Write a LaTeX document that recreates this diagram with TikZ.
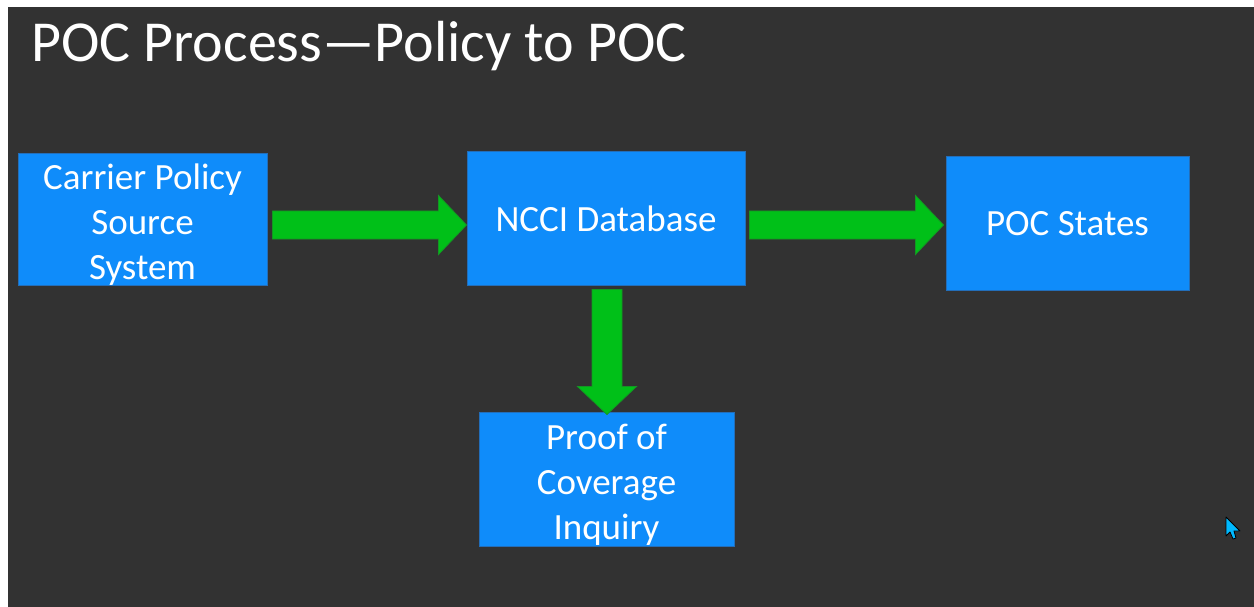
\documentclass[tikz,border=0pt]{standalone}
\usepackage{fontspec}
\setmainfont{Carlito}
\usetikzlibrary{calc}
\definecolor{bgdark}{RGB}{50,50,50}
\definecolor{boxblue}{RGB}{15,140,250}
\definecolor{boxedge}{RGB}{35,110,185}
\definecolor{agreen}{RGB}{0,192,24}
\definecolor{agreenedge}{RGB}{20,150,35}
\definecolor{cursorblue}{RGB}{0,185,255}
\tikzset{
  blockbox/.style={rectangle, fill=boxblue, draw=boxedge, line width=1pt, text=white,
    align=center, inner sep=0pt, font=\fontsize{37}{45}\selectfont},
  garrow/.style={fill=agreen, draw=agreenedge, line width=0.8pt},
}
\newcommand\rblockarrow[2]{%
  \path[garrow] let \p1=(#1), \p2=(#2) in
    (\x1,\y1+14pt) -- (\x2-28pt,\y1+14pt) -- (\x2-28pt,\y1+29.5pt) -- (\x2,\y1)
    -- (\x2-28pt,\y1-29.5pt) -- (\x2-28pt,\y1-14pt) -- (\x1,\y1-14pt) -- cycle;}
\newcommand\dblockarrow[2]{%
  \path[garrow] let \p1=(#1), \p2=(#2) in
    (\x1-15pt,\y1) -- (\x1+15pt,\y1) -- (\x1+15pt,\y2+28pt) -- (\x1+29.5pt,\y2+28pt)
    -- (\x1,\y2) -- (\x1-29.5pt,\y2+28pt) -- (\x1-15pt,\y2+28pt) -- cycle;}
\newcommand\topstrut{\rule{0pt}{36pt}}
\begin{document}
\begin{tikzpicture}[x=1pt,y=-1pt]
\useasboundingbox (0,0) rectangle (1254,607);
\fill[white] (0,0) rectangle (1254,607);
\fill[bgdark] (8,7) rectangle (1254,607);

\node[anchor=base west, text=white, inner sep=0pt, font=\fontsize{58}{60}\selectfont] (title) at (31,62) {POC Process—Policy to POC};

\node[blockbox, minimum width=249pt, minimum height=131pt] (carrier) at (142.5,219.5) {\topstrut Carrier Policy\\Source\\System};
\node[blockbox, minimum width=278pt, minimum height=133pt] (ncci) at (606,218.5) {NCCI Database};
\node[blockbox, minimum width=243pt, minimum height=133pt] (poc) at (1067.5,223.5) {POC States};
\node[blockbox, minimum width=255pt, minimum height=134pt] (proof) at (606.5,479) {\topstrut Proof of\\Coverage\\Inquiry};

\coordinate (a1s) at ($(carrier.east)+(5,5.5)$);
\coordinate (a2s) at ($(ncci.east)+(4,6.5)$);
\coordinate (a2e) at ($(poc.west)+(-2,0)$);
\coordinate (a3s) at ($(ncci.south)+(1,4)$);
\coordinate (a3e) at ($(proof.north)+(0,3)$);
\rblockarrow{a1s}{ncci.west}
\rblockarrow{a2s}{a2e}
\dblockarrow{a3s}{a3e}

% mouse pointer
\filldraw[fill=cursorblue, draw=black, line width=0.8pt, line join=round]
  (1226,517) -- (1226,536) -- (1230,532) -- (1233,539) -- (1236,538) -- (1234,531) -- (1240,531) -- cycle;
\end{tikzpicture}
\end{document}
